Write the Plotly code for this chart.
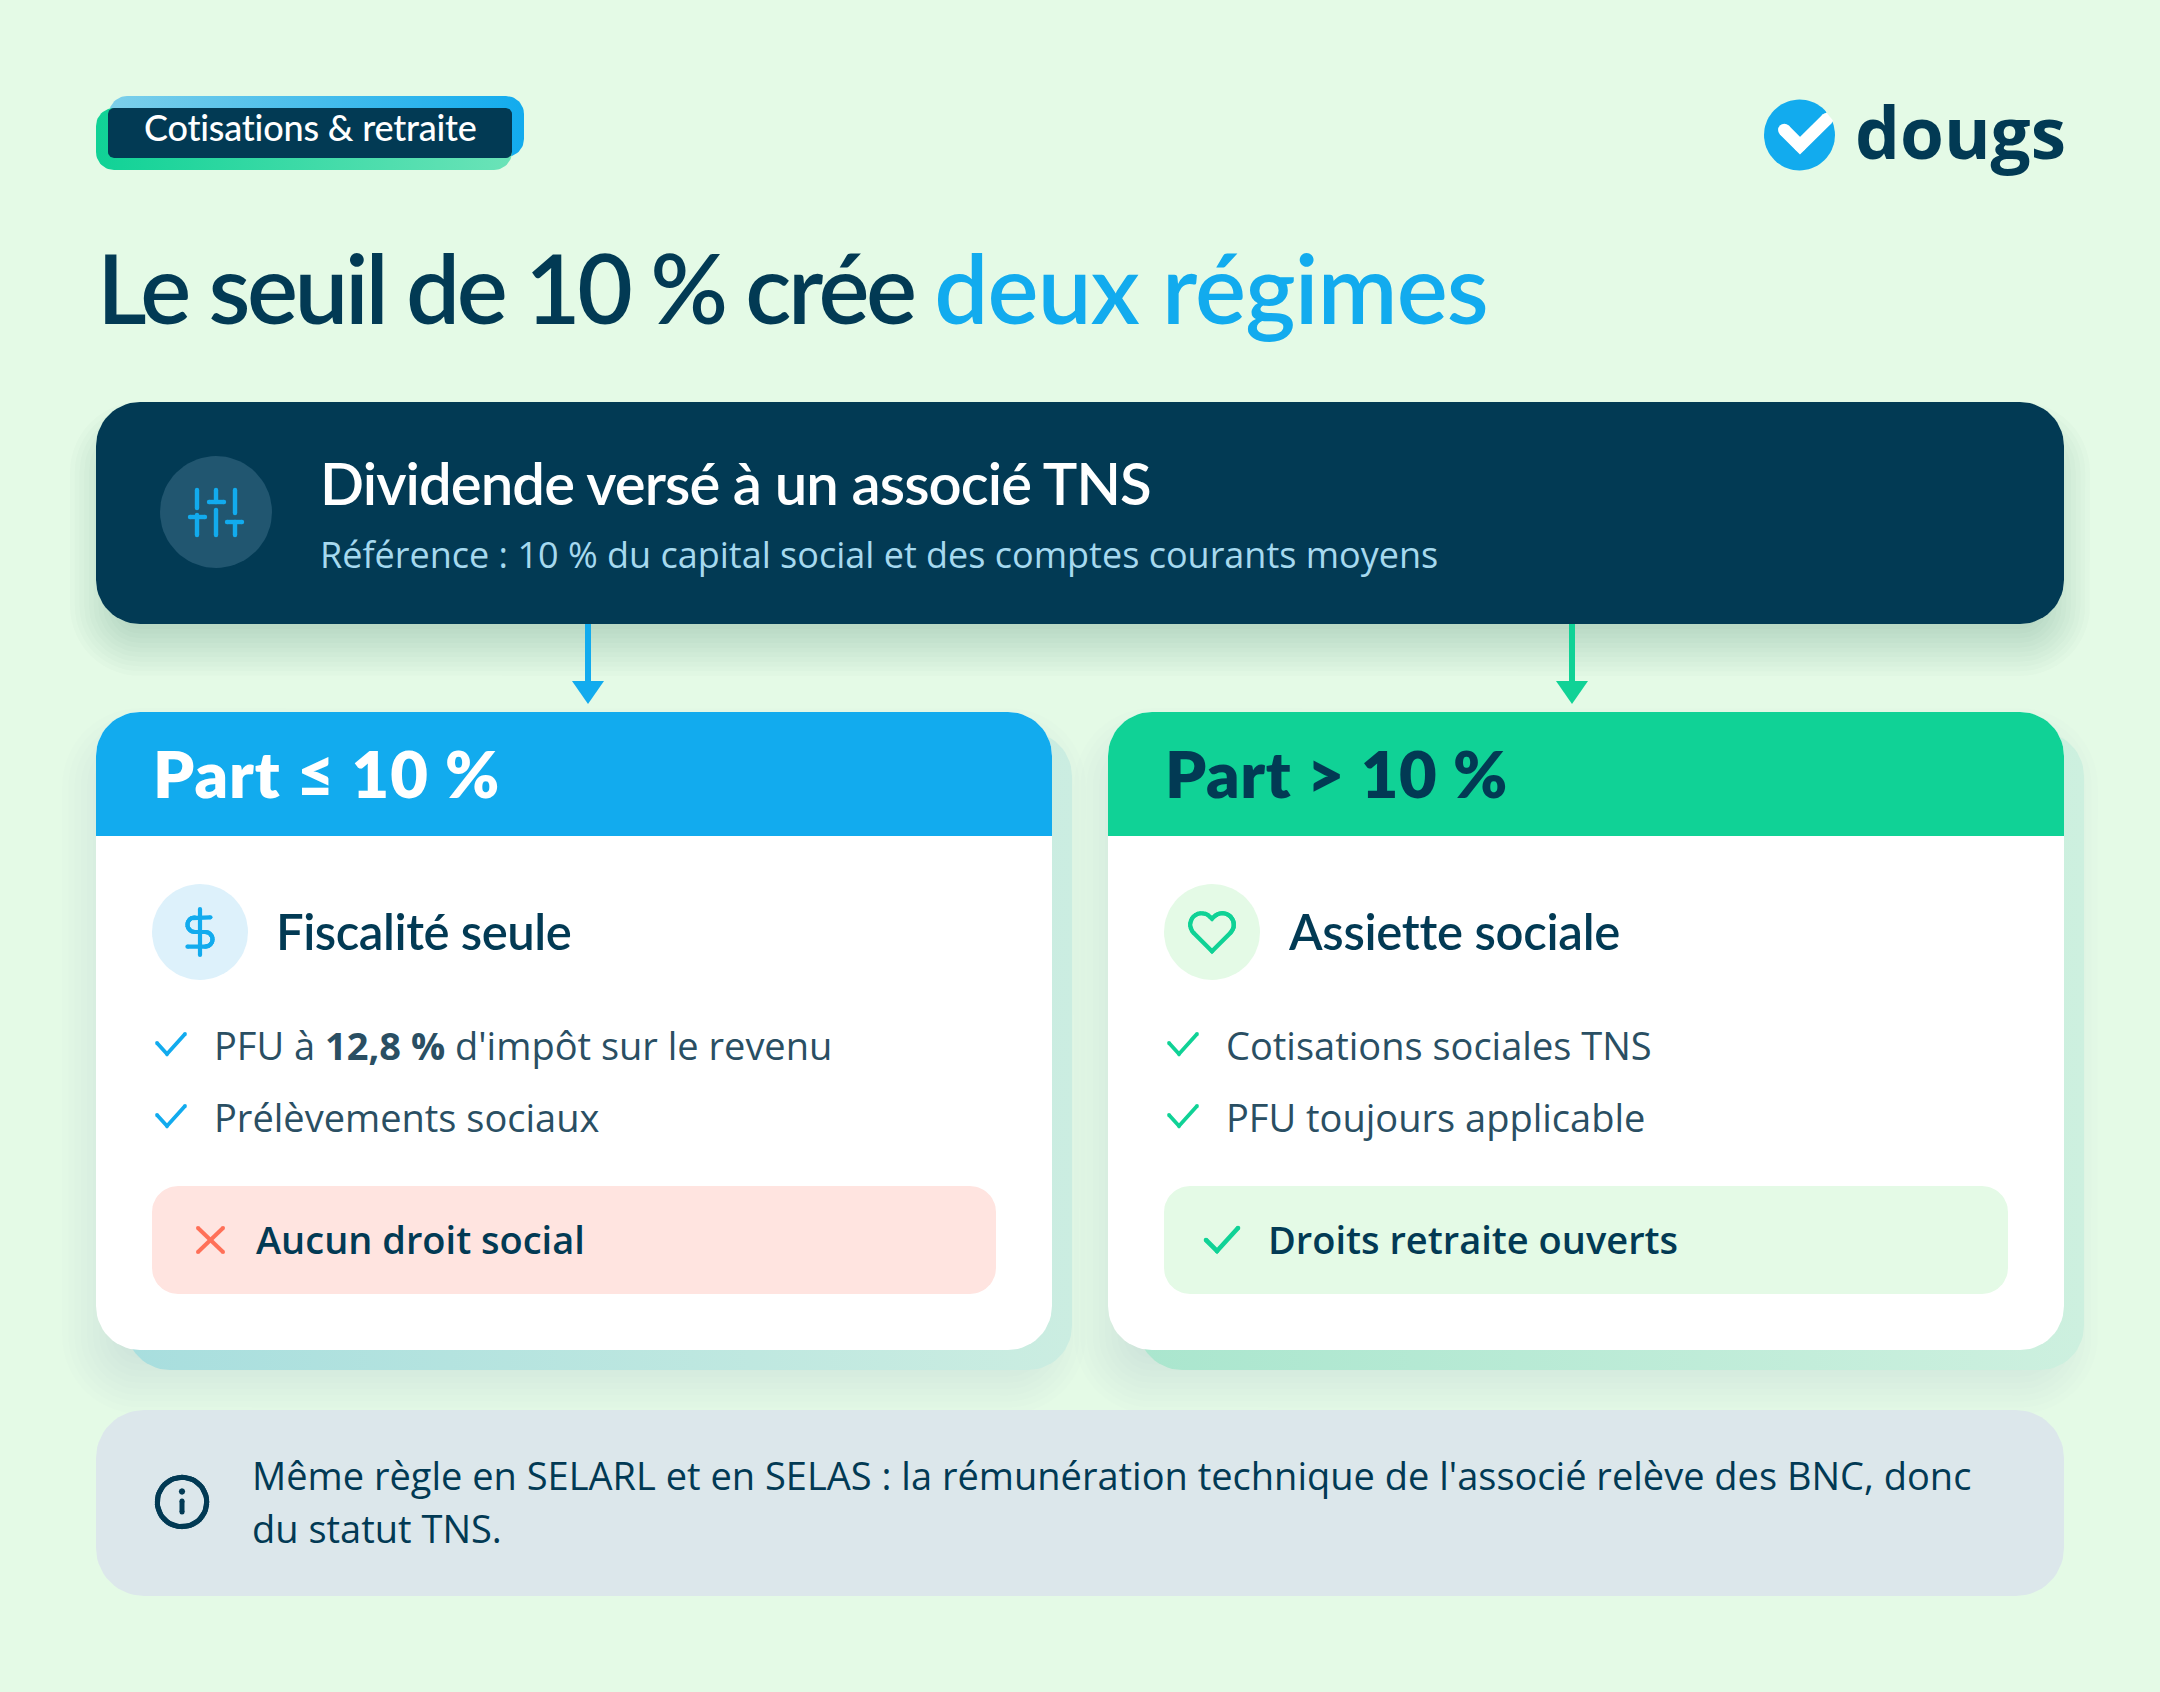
import math
import plotly.graph_objects as go

# ---- content ----
badge_label = "Cotisations & retraite"
brand = "dougs"
title_dark = "Le seuil de 10 % crée "
title_blue = "deux régimes"
root_title = "Dividende versé à un associé TNS"
root_sub = "Référence : 10 % du capital social et des comptes courants moyens"
left_head = "Part ≤ 10 %"
right_head = "Part > 10 %"
left_name = "Fiscalité seule"
right_name = "Assiette sociale"
left_items = ["PFU à <b>12,8 %</b> d'impôt sur le revenu", "Prélèvements sociaux"]
right_items = ["Cotisations sociales TNS", "PFU toujours applicable"]
left_verdict = "Aucun droit social"
right_verdict = "Droits retraite ouverts"
note_lines = ["Même règle en SELARL et en SELAS : la rémunération technique de l'associé relève des BNC, donc",
              "du statut TNS."]

# ---- palette ----
BG = "#E4FAE6"; NAVY = "#023A54"; BLUE = "#12ABEE"; GREEN = "#10D296"; BODY = "#2A4F63"
HEAD_FONT = "Lato"; BODY_FONT = "Open Sans"

W, H = 2160, 1692
fig = go.Figure()


def arc(cx, cy, r, a0, a1, n=14):
    return [(cx + r * math.cos(math.radians(a0 + (a1 - a0) * i / n)),
             cy + r * math.sin(math.radians(a0 + (a1 - a0) * i / n))) for i in range(n + 1)]


def rr_pts(x0, y0, x1, y1, r, bottom=True):
    rb = r if bottom else 0
    p = []
    p += arc(x0 + r, y0 + r, r, 180, 270)
    p += arc(x1 - r, y0 + r, r, 270, 360)
    p += arc(x1 - rb, y1 - rb, rb, 0, 90) if rb else [(x1, y1)]
    p += arc(x0 + rb, y1 - rb, rb, 90, 180) if rb else [(x0, y1)]
    p.append(p[0])
    return p


def rect(x0, y0, x1, y1, r, color=None, grad=None, bottom=True):
    p = rr_pts(x0, y0, x1, y1, r, bottom)
    kw = dict(fillgradient=dict(type="horizontal", colorscale=[[0, grad[0]], [1, grad[1]]])) if grad else dict(fillcolor=color)
    fig.add_trace(go.Scatter(x=[a for a, _ in p], y=[b for _, b in p], mode="lines", fill="toself",
                             line=dict(width=0), hoverinfo="skip", **kw))


def circle(cx, cy, r, color):
    p = arc(cx, cy, r, 0, 360, 72)
    fig.add_trace(go.Scatter(x=[a for a, _ in p], y=[b for _, b in p], mode="lines", fill="toself",
                             fillcolor=color, line=dict(width=0), hoverinfo="skip"))


def stroke(pts, w, color):
    fig.add_trace(go.Scatter(x=[a for a, _ in pts], y=[b for _, b in pts], mode="lines+markers",
                             line=dict(color=color, width=w), marker=dict(color=color, size=w, line=dict(width=0)),
                             hoverinfo="skip"))


def poly(pts, color):
    pts = pts + pts[:1]
    fig.add_trace(go.Scatter(x=[a for a, _ in pts], y=[b for _, b in pts], mode="lines", fill="toself",
                             fillcolor=color, line=dict(width=0), hoverinfo="skip"))


def soft_shadow(x0, y0, x1, y1, r, dy, spread, alpha, n=12):
    for i in range(n):
        e = spread - 2 * spread * i / (n - 1)
        rect(x0 - e, y0 + dy - e, x1 + e, y1 + dy + e, max(r + e, 4), f"rgba(2,58,84,{alpha})")


def txt(x, base, s, size, color, font=BODY_FONT, weight=400, ls=None, desc=0.293):
    t = f'<span style="letter-spacing:{ls}px">{s}</span>' if ls is not None else s
    fig.add_annotation(x=x, y=base + desc * size, xref="x", yref="y", text=t, showarrow=False,
                       xanchor="left", yanchor="bottom", borderpad=0, borderwidth=0,
                       font=dict(family=font, size=size, color=color, weight=weight), align="left")


def check(x0, y0, x1, y1, x2, y2, w, c):
    stroke([(x0, y0), (x1, y1), (x2, y2)], w, c)


# ---- badge ----
rect(109, 96, 524, 157, 18, grad=("#7CCFEA", BLUE))
rect(96, 108, 512, 170, 18, grad=(GREEN, "#6BE3B8"))
rect(108, 108, 512, 158, 6, NAVY)
txt(144, 142, badge_label, 36, "#FFFFFF", HEAD_FONT, 500, ls=-0.2, desc=0.2)

# ---- logo ----
circle(1799.5, 135, 35.5, BLUE)
check(1784.3, 130, 1800, 145.7, 1827, 119, 12.5, "#FFFFFF")
poly([(1826, 112), (1835, 123), (1850, 123), (1850, 95), (1826, 95)], BG)
txt(1855, 159.5, brand, 71, NAVY, "Open Sans", 700)

# ---- title ----
title_html = (f'<span style="letter-spacing:-3.35px">{title_dark}</span>'
              f'<span style="color:{BLUE};letter-spacing:-0.8px">{title_blue}</span>')
txt(97, 325, title_html, 96, NAVY, HEAD_FONT, 600, desc=0.2)

# ---- root panel shadow ----
soft_shadow(96, 402, 2064, 624, 44, 26, 26, 0.014)

# ---- card shadows ----
for x0, x1, g in ((96, 1052, ("#A8DEDE", "#CBEDE1")), (1108, 2064, ("#AAE6CE", "#CDF0DF"))):
    soft_shadow(x0, 712, x1, 1350, 44, 30, 34, 0.006)
    rect(x0 + 30, 732, x1 + 20, 1370, 44, grad=g)

# ---- arrows ----
for ax, c in ((588, BLUE), (1572, GREEN)):
    stroke([(ax, 624), (ax, 684)], 6, c)
    poly([(ax - 16, 681), (ax + 16, 681), (ax, 704)], c)

# ---- root panel ----
rect(96, 402, 2064, 624, 44, NAVY)
circle(216, 512, 56, "#215670")
for seg in (((197, 490), (197, 508)), ((197, 515), (197, 535)), ((216, 490), (216, 502)), ((216, 510), (216, 535)),
            ((235, 490), (235, 513)), ((235, 522), (235, 535)), ((190, 517), (205, 517)), ((209, 502), (224, 502)),
            ((227, 522), (242, 522))):
    stroke(list(seg), 4.4, BLUE)
txt(320, 505, root_title, 58, "#FFFFFF", HEAD_FONT, 600, ls=-0.9, desc=0.2)
txt(320, 568, root_sub, 36, "#A6D9EF")

# ---- cards ----
for x0, c in ((96, BLUE), (1108, GREEN)):
    rect(x0, 712, x0 + 956, 1350, 44, "#FFFFFF")
    rect(x0, 712, x0 + 956, 836, 44, c, bottom=False)

txt(153, 799, left_head, 65, "#FFFFFF", HEAD_FONT, 800, ls=1.0, desc=0.2)
txt(1165, 799, right_head, 65, NAVY, HEAD_FONT, 800, ls=0.6, desc=0.2)

# left icon: dollar
circle(200, 932, 48, "#DDF1FB")
U = 2.09
fx = lambda u: 200 + (u - 12) * U
fy = lambda v: 932 + (v - 12) * U
stroke([(fx(12), fy(1)), (fx(12), fy(23))], 4.2, BLUE)
s = [(17, 5)] + arc(9.5, 8.5, 3.5, -90, -270) + arc(14.5, 15.5, 3.5, -90, 90) + [(6, 19)]
stroke([(fx(a), fy(b)) for a, b in s], 4.2, BLUE)
txt(276, 950, left_name, 49, NAVY, HEAD_FONT, 600, ls=-0.45, desc=0.2)

# right icon: heart
circle(1212, 932, 48, BG)
hx = lambda u: 1212 + (u - 12) * U
h = (arc(16.95, 8.5, 5.5, -45, -135) + [(12, 5.67)] + arc(7.05, 8.5, 5.5, -45, -225) + [(12, 21.23)]
     + arc(16.95, 8.5, 5.5, 45, -45))
stroke([(hx(a), fy(b)) for a, b in h], 4.2, GREEN)
txt(1288, 950, right_name, 49, NAVY, HEAD_FONT, 600, ls=-0.3, desc=0.2)

# items
for i, (a, b) in enumerate(zip(left_items, right_items)):
    d = 72 * i
    check(157, 1043 + d, 167, 1054 + d, 185, 1034 + d, 3.8, BLUE)
    check(1169, 1043 + d, 1179, 1054 + d, 1197, 1034 + d, 3.8, GREEN)
    txt(214, 1060 + d, a, 38, BODY)
    txt(1226, 1060 + d, b, 38, BODY)

# verdicts
rect(152, 1186, 996, 1294, 26, "#FFE4E0")
stroke([(198, 1228), (223, 1252)], 4, "#FF7058")
stroke([(223, 1228), (198, 1252)], 4, "#FF7058")
txt(256, 1254, left_verdict, 38, NAVY, BODY_FONT, 600)
rect(1164, 1186, 2008, 1294, 26, BG)
check(1206, 1240, 1217, 1251, 1238, 1228, 4.6, GREEN)
txt(1268, 1254, right_verdict, 38, NAVY, BODY_FONT, 600)

# ---- note ----
rect(96, 1410, 2064, 1596, 48, "#DCE7EB")
p = arc(182, 1502, 24.7, 0, 360, 72)
stroke(p, 5, NAVY)
stroke([(182, 1501), (182, 1512)], 5, NAVY)
circle(182, 1491.5, 3.2, NAVY)
txt(252, 1490, note_lines[0], 38, NAVY)
txt(252, 1542.5, note_lines[1], 38, NAVY)

fig.update_layout(width=W, height=H, margin=dict(l=0, r=0, t=0, b=0), paper_bgcolor=BG, plot_bgcolor=BG,
                  showlegend=False, hovermode=False,
                  xaxis=dict(range=[0, W], visible=False, fixedrange=True),
                  yaxis=dict(range=[H, 0], visible=False, fixedrange=True))
fig.write_html("out.html", config=dict(displayModeBar=False),
               post_script="document.body.style.margin='0';document.body.style.overflow='hidden';")
